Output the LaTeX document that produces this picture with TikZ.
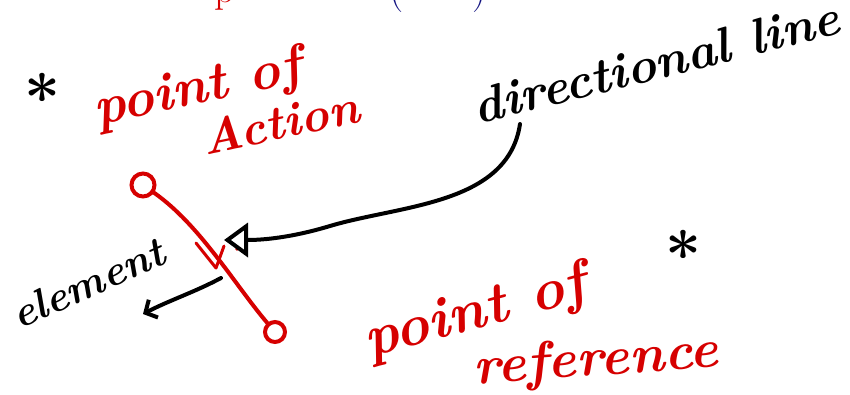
\documentclass[tikz,border=0pt]{standalone}
\usepackage{tikz}
\usetikzlibrary{arrows.meta,positioning,calc}
\definecolor{inkred}{RGB}{214,0,0}
\definecolor{inkblue}{RGB}{20,20,130}

\begin{document}
\begin{tikzpicture}[
    x=1pt, y=-1pt,
    redtxt/.style={text=inkred, inner sep=0pt, font=\fontsize{54}{54}\selectfont\bfseries\itshape},
    blacktxt/.style={text=black, inner sep=0pt, font=\fontsize{50}{50}\selectfont\bfseries\itshape},
    star/.style={text=black, inner sep=0pt, font=\fontsize{64}{64}\selectfont\bfseries},
    endpt/.style={circle, draw=inkred, line width=4pt, inner sep=0pt},
    redline/.style={draw=inkred, line width=4pt, line cap=round},
    inkline/.style={draw=black, line width=4pt, line cap=round}
]
\path[use as bounding box, clip] (0,0) rectangle (850,394);
\fill[white] (0,0) rectangle (850,394);
% cut-off heading at the top edge
\node[text=inkred, font=\fontsize{40}{40}\selectfont, anchor=base] (hdp) at (225,2) {p};
\node[text=inkblue, font=\fontsize{40}{40}\selectfont, anchor=base] (hdb) at (438,2) {(\hspace{68pt})};
% labels
\node[star] (st1) at (42,88) {\textasteriskcentered};
\node[star] (st2) at (683,245) {\textasteriskcentered};
\node[redtxt, rotate=12] (poa) at (198,90) {point of};
\node[redtxt, font=\fontsize{48}{48}\selectfont\bfseries\itshape, rotate=12] (act) at (280,122) {Action};
\node[blacktxt, rotate=14] (dirl) at (656,62) {directional line};
\node[blacktxt, font=\fontsize{42}{42}\selectfont\bfseries\itshape, rotate=24] (elem) at (88,283) {element};
\node[redtxt, font=\fontsize{58}{58}\selectfont\bfseries\itshape, rotate=15] (por) at (476,314) {point of};
\node[redtxt, rotate=4] (ref) at (596,362) {reference};
% the element with its two end points
\node[endpt, minimum size=23pt] (c1) at (143,185) {};
\node[endpt, minimum size=20pt] (c2) at (275,332) {};
\draw[redline] (c1) .. controls (200,225) and (235,285) .. (c2);
\draw[draw=inkred, line width=3pt, line cap=round, line join=round] (196,243) -- (216,268) -- (224,246);
\fill[inkred] (237,249) circle (1.8pt);
% arrows
\coordinate (dtail) at (520,124);
\coordinate (hit) at (224,240);
\coordinate (etail) at (221,278);
\coordinate (ehead) at (143,314);
\draw[inkline, -{Triangle[open, length=24pt, width=34pt, line width=4pt]}] (dtail) .. controls (508,205) and (400,205) .. (330,226) .. controls (290,238) and (262,240) .. (hit);
\draw[inkline, -{Straight Barb[length=9pt, width=20pt]}] (etail) .. controls (195,292) and (170,300) .. (ehead);
\end{tikzpicture}
\end{document}
